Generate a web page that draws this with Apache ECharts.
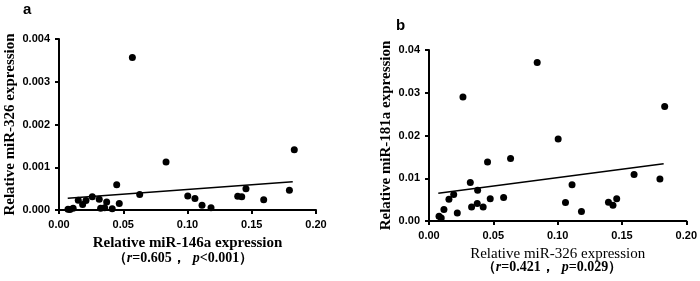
<!DOCTYPE html>
<html>
<head>
<meta charset="utf-8">
<script src="https://cdn.jsdelivr.net/npm/echarts@6/dist/echarts.min.js"></script>
<style>
  html, body { margin: 0; padding: 0; background: #fff; }
  #chart { width: 700px; height: 281px; }
</style>
</head>
<body>
<div id="chart"></div>
<script>
// panel a: miR-146a (x) vs miR-326 (y)
var aX = [0.0070, 0.0085, 0.0110, 0.0150, 0.0184, 0.0210, 0.0259, 0.0313, 0.0324, 0.0371,
          0.0355, 0.0414, 0.0449, 0.0469, 0.0571, 0.0628, 0.0833, 0.1002, 0.1058, 0.1113,
          0.1183, 0.1391, 0.1422, 0.1455, 0.1593, 0.1793, 0.1831];
var aY = [0.00002, 0.00001, 0.00004, 0.00023, 0.00013, 0.00022, 0.00031, 0.00025, 0.00004, 0.00019,
          0.00005, 0.00003, 0.00059, 0.00015, 0.00357, 0.00036, 0.00112, 0.00033, 0.00027, 0.00011,
          0.00005, 0.00032, 0.00031, 0.00050, 0.00024, 0.00046, 0.00141];
var aFitX = [0.0068, 0.1819];
var aFitY = [0.000274, 0.000663];

// panel b: miR-326 (x) vs miR-181a (y)
var bX = [0.0078, 0.0095, 0.0116, 0.0155, 0.0192, 0.0220, 0.0264, 0.0321, 0.0331, 0.0378,
          0.0375, 0.0421, 0.0455, 0.0476, 0.0580, 0.0634, 0.0841, 0.1004, 0.1061, 0.1112,
          0.1185, 0.1395, 0.1430, 0.1459, 0.1594, 0.1795, 0.1832];
var bY = [0.0011, 0.0007, 0.0027, 0.0051, 0.0062, 0.0019, 0.0290, 0.0090, 0.0033, 0.0072,
          0.0041, 0.0033, 0.0138, 0.0052, 0.0055, 0.0146, 0.0371, 0.0192, 0.0043, 0.0085,
          0.0022, 0.0044, 0.0037, 0.0052, 0.0109, 0.0098, 0.0268];
var bFitX = [0.0072, 0.1824];
var bFitY = [0.0065, 0.0134];

var xTicks = { min: 0, max: 0.20, interval: 0.05 };
var aYTicks = { min: 0, max: 0.004, interval: 0.001 };
var bYTicks = { min: 0, max: 0.04, interval: 0.01 };

function pairs(xs, ys) {
    var list = [];
    for (var i = 0; i < xs.length; i++) {
        list.push([xs[i], ys[i]]);
    }
    return list;
}

var serif = 'Liberation Serif';
var sans = 'Liberation Sans';

function makeX(gridIndex, name, weight, size) {
    return {
        type: 'value', gridIndex: gridIndex,
        min: xTicks.min, max: xTicks.max, interval: xTicks.interval,
        name: name, nameLocation: 'middle', nameGap: 26,
        nameTextStyle: { fontFamily: serif, fontWeight: weight, fontSize: size, color: '#000' },
        axisLine: { show: true, onZero: false, lineStyle: { color: '#000', width: 2 } },
        axisTick: { show: true, length: 4, lineStyle: { color: '#000', width: 2 } },
        axisLabel: {
            color: '#000', fontFamily: sans, fontWeight: 'bold', fontSize: 11, margin: 9,
            formatter: function (v) { return v.toFixed(2); }
        },
        splitLine: { show: false }
    };
}

function makeY(gridIndex, ticks, digits, name, gap) {
    return {
        type: 'value', gridIndex: gridIndex,
        min: ticks.min, max: ticks.max, interval: ticks.interval,
        name: name, nameLocation: 'middle', nameGap: gap, nameRotate: 90,
        nameTextStyle: { fontFamily: serif, fontWeight: 'bold', fontSize: 15, color: '#000' },
        axisLine: { show: true, onZero: false, lineStyle: { color: '#000', width: 2 } },
        axisTick: { show: true, length: 4, lineStyle: { color: '#000', width: 2 } },
        axisLabel: {
            color: '#000', fontFamily: sans, fontWeight: 'bold', fontSize: 11, margin: 9,
            formatter: function (v) { return v.toFixed(digits); }
        },
        splitLine: { show: false }
    };
}

function dots(i, data) {
    return {
        type: 'scatter', xAxisIndex: i, yAxisIndex: i,
        data: data, symbol: 'circle', symbolSize: 7,
        itemStyle: { color: '#000', opacity: 1 }, z: 3
    };
}

function fit(i, data) {
    return {
        type: 'line', xAxisIndex: i, yAxisIndex: i,
        data: data, symbol: 'none',
        lineStyle: { color: '#000', width: 1.5 }, z: 2
    };
}

var statRich = {
    n: { fontFamily: serif, fontWeight: 'bold', fontSize: 14, fill: '#000' },
    i: { fontFamily: serif, fontWeight: 'bold', fontStyle: 'italic', fontSize: 14, fill: '#000' }
};

var myChart = echarts.init(document.getElementById('chart'), null, { renderer: 'canvas' });

var option = {
    backgroundColor: '#fff',
    animation: false,
    grid: [
        { left: 59, right: 384, top: 39, bottom: 71, containLabel: false },
        { left: 429, right: 13, top: 50, bottom: 60, containLabel: false }
    ],
    xAxis: [
        makeX(0, 'Relative miR-146a expression', 'bold', 15),
        makeX(1, 'Relative miR-326 expression', 'normal', 15)
    ],
    yAxis: [
        makeY(0, aYTicks, 3, 'Relative miR-326 expression', 41),
        makeY(1, bYTicks, 2, 'Relative miR-181a expression', 35)
    ],
    series: [
        dots(0, pairs(aX, aY)),
        fit(0, pairs(aFitX, aFitY)),
        dots(1, pairs(bX, bY)),
        fit(1, pairs(bFitX, bFitY))
    ],
    graphic: [
        {
            type: 'text', left: 23, top: 2,
            style: { text: 'a', fontFamily: sans, fontWeight: 'bold', fontSize: 15, fill: '#000' }
        },
        {
            type: 'text', left: 396, top: 18,
            style: { text: 'b', fontFamily: sans, fontWeight: 'bold', fontSize: 15, fill: '#000' }
        },
        {
            type: 'text', x: 183, y: 258,
            style: {
                text: '（{i|r}=0.605，  {i|p}<0.001）',
                rich: statRich, fontFamily: serif, fontWeight: 'bold', fontSize: 14, fill: '#000',
                align: 'center', verticalAlign: 'middle'
            }
        },
        {
            type: 'text', x: 552, y: 267,
            style: {
                text: '（{i|r}=0.421，  {i|p}=0.029）',
                rich: statRich, fontFamily: serif, fontWeight: 'bold', fontSize: 14, fill: '#000',
                align: 'center', verticalAlign: 'middle'
            }
        }
    ]
};

myChart.setOption(option);
</script>
</body>
</html>
